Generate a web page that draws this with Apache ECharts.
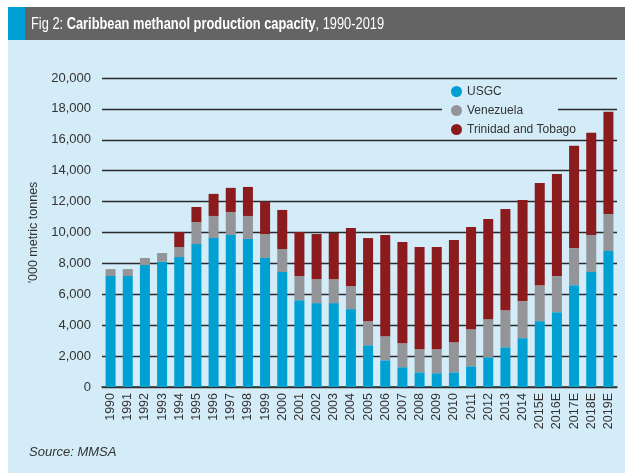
<!DOCTYPE html>
<html>
<head>
<meta charset="utf-8">
<script src="https://cdn.jsdelivr.net/npm/echarts@6/dist/echarts.min.js"></script>
<style>html,body{margin:0;padding:0;background:#fff;}#c{width:625px;height:473px;}</style>
</head>
<body>
<div id="c"></div>
<script>
var categories = ['1990','1991','1992','1993','1994','1995','1996','1997','1998','1999','2000','2001','2002','2003','2004','2005','2006','2007','2008','2009','2010','2011','2012','2013','2014','2015E','2016E','2017E','2018E','2019E'];
var usgc = [7180,7180,7890,8110,8410,9250,9640,9840,9580,8350,7440,5620,5430,5430,5040,2700,1730,1280,950,890,950,1340,1920,2570,3160,4260,4840,6590,7440,8800];
var venezuela = [450,450,460,560,650,1430,1430,1490,1490,1550,1490,1560,1550,1550,1490,1560,1560,1550,1490,1550,1950,2400,2470,2400,2400,2330,2340,2400,2400,2400];
var trinidad = [0,0,0,0,970,970,1430,1560,1880,2100,2530,2850,2920,2990,3760,5380,6550,6550,6620,6620,6610,6620,6490,6550,6550,6620,6610,6620,6610,6620];
var yTicks = [0,2000,4000,6000,8000,10000,12000,14000,16000,18000,20000];

var BG = '#D3ECF8';
var chart = echarts.init(document.getElementById('c'), null, {renderer:'canvas'});
var font = "'Liberation Sans', Arial, sans-serif";
chart.setOption({
  backgroundColor: BG,
  animation: false,
  graphic: [
    {type:'rect', z:10, shape:{x:0,y:0,width:625,height:7}, style:{fill:'#fff'}},
    {type:'rect', z:10, shape:{x:0,y:0,width:8,height:473}, style:{fill:'#fff'}},
    {type:'rect', z:10, shape:{x:8,y:7,width:617,height:33}, style:{fill:'#646464'}},
    {type:'rect', z:10, shape:{x:8,y:7,width:17,height:33}, style:{fill:'#00A0D6'}},
    {type:'text', z:11, x:31, y:24, scaleX:0.755, style:{
      text:'{a|Fig 2: }{b|Caribbean methanol production capacity}{a|, 1990-2019}',
      verticalAlign:'middle',
      rich:{
        a:{fontFamily:font, fontSize:17, fill:'#fff', color:'#fff'},
        b:{fontFamily:font, fontSize:17, fontWeight:'bold', fill:'#fff', color:'#fff'}
      }
    }},
    {type:'rect', z:1, shape:{x:442,y:103,width:116,height:12}, style:{fill:BG}},
    {type:'text', z:11, x:29, y:452, style:{text:'Source: MMSA', fontFamily:font, fontSize:13, fontStyle:'italic', fill:'#333', verticalAlign:'middle'}}
  ],
  legend: {
    orient:'vertical', left:451, top:85.5, padding:0, itemGap:7,
    icon:'circle', itemWidth:11, itemHeight:11,
    textStyle:{fontFamily:font, fontSize:12, color:'#333'},
    data:['USGC','Venezuela','Trinidad and Tobago']
  },
  grid: {left:102, right:8, top:78, bottom:86, containLabel:false},
  xAxis: {
    type:'category', data:categories,
    axisLine:{show:true, lineStyle:{color:'#333', width:1.5}},
    axisTick:{show:false},
    axisLabel:{rotate:90, fontFamily:font, fontSize:12.5, color:'#333', margin:6, interval:0}
  },
  yAxis: {
    type:'value', min:yTicks[0], max:yTicks[yTicks.length-1], interval:2000,
    name:"'000 metric tonnes", nameLocation:'middle', nameGap:58,
    nameTextStyle:{fontFamily:font, fontSize:12.5, color:'#333'},
    axisLine:{show:false}, axisTick:{show:false},
    axisLabel:{fontFamily:font, fontSize:13, color:'#333', margin:11,
      formatter:function(v){return v.toLocaleString('en-US');}},
    splitLine:{lineStyle:{color:'#2a2a2a', width:1.3}}
  },
  series: [
    {name:'USGC', type:'bar', stack:'t', data:usgc, barWidth:10, itemStyle:{color:'#00A0D2'}},
    {name:'Venezuela', type:'bar', stack:'t', data:venezuela, barWidth:10, itemStyle:{color:'#939598'}},
    {name:'Trinidad and Tobago', type:'bar', stack:'t', data:trinidad, barWidth:10, itemStyle:{color:'#8C1B1E'}}
  ]
});
</script>
</body>
</html>
